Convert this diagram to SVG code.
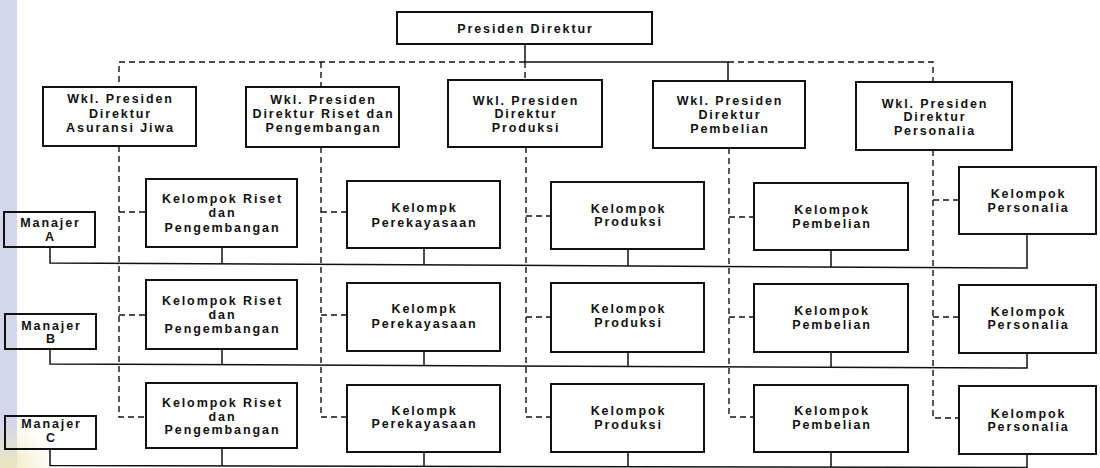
<svg xmlns="http://www.w3.org/2000/svg" width="1100" height="468" viewBox="0 0 1100 468">
  <style>
    .box { fill: none; stroke: #111; stroke-width: 2; }
    .t { font-family: "Liberation Sans", Arial, sans-serif; font-weight: bold; font-size: 12.5px; letter-spacing: 1.9px; text-anchor: middle; fill: #111; }
    .solid { fill: none; stroke: #111; stroke-width: 1.5; }
    .dash { fill: none; stroke: #111; stroke-width: 1.4; stroke-dasharray: 6 4; }
  </style>
  <defs>
    <radialGradient id="tint" cx="8" cy="468" r="46" gradientUnits="userSpaceOnUse">
      <stop offset="0" stop-color="#efe8b8" stop-opacity="0.9"/>
      <stop offset="1" stop-color="#efe8b8" stop-opacity="0"/>
    </radialGradient>
  </defs>

  <!-- page background and margin strip -->
  <rect x="0" y="0" width="1100" height="468" fill="#fff"/>
  <rect x="0" y="0" width="17" height="468" fill="#d4d7eb"/>
  <rect x="0" y="420" width="60" height="48" fill="url(#tint)"/>

  <!-- connectors -->
  <g id="connectors">
    <!-- top level -->
    <path class="solid" d="M525,44 V62 H728 V81"/>
    <path class="dash" d="M525,62 H119 V87"/>
    <path class="dash" d="M321,62 V87"/>
    <path class="dash" d="M525,62 V80"/>
    <path class="dash" d="M728,62 H933 V82"/>
    <!-- dashed lines from each vice president down to the groups -->
    <path class="dash" d="M119,146 V417 H146 M119,212 H146 M119,315 H146"/>
    <path class="dash" d="M321,147 V417 H347 M321,212 H347 M321,315 H347"/>
    <path class="dash" d="M526,147 V417 H551 M526,216 H551 M526,317 H551"/>
    <path class="dash" d="M729,148 V417 H754 M729,217 H754 M729,317 H754"/>
    <path class="dash" d="M933,150 V418 H959 M933,200 H959 M933,317 H959"/>
    <!-- manager A line -->
    <path class="solid" d="M50,247 V263 L1027,268 V234"/>
    <path class="solid" d="M222,247 V263.9 M424,248 V264.9 M628,249 V266 M831,250 V267"/>
    <!-- manager B line -->
    <path class="solid" d="M50,349 V364 L1027,368 V353"/>
    <path class="solid" d="M222,349 V364.7 M424,351 V365.5 M628,352 V366.4 M831,352 V367.2"/>
    <!-- manager C line -->
    <path class="solid" d="M50,449 V465.5 L1027,467.5 V454"/>
    <path class="solid" d="M222,448 V465.9 M424,452 V466.3 M628,452 V466.7 M831,452 V467.1"/>
  </g>

  <!-- top -->
  <g id="presiden-direktur">
    <rect class="box" x="397" y="12" width="255" height="32"/>
    <text class="t" x="525.5" y="32.5">Presiden Direktur</text>
  </g>

  <!-- vice presidents -->
  <g id="wkl-asuransi">
    <rect class="box" x="43" y="87" width="153" height="59"/>
    <text class="t" x="120.5" y="103">Wkl. Presiden</text>
    <text class="t" x="120.5" y="117.5">Direktur</text>
    <text class="t" x="120.5" y="132">Asuransi Jiwa</text>
  </g>
  <g id="wkl-riset">
    <rect class="box" x="246" y="87" width="153" height="60"/>
    <text class="t" x="323.5" y="103.5">Wkl. Presiden</text>
    <text class="t" x="323.5" y="118">Direktur Riset dan</text>
    <text class="t" x="323.5" y="132">Pengembangan</text>
  </g>
  <g id="wkl-produksi">
    <rect class="box" x="448" y="80" width="154" height="67"/>
    <text class="t" x="526" y="104.5">Wkl. Presiden</text>
    <text class="t" x="526" y="118">Direktur</text>
    <text class="t" x="526" y="132">Produksi</text>
  </g>
  <g id="wkl-pembelian">
    <rect class="box" x="653" y="81" width="152" height="67"/>
    <text class="t" x="730" y="104.5">Wkl. Presiden</text>
    <text class="t" x="730" y="118.5">Direktur</text>
    <text class="t" x="730" y="132.5">Pembelian</text>
  </g>
  <g id="wkl-personalia">
    <rect class="box" x="856" y="82" width="156" height="68"/>
    <text class="t" x="935" y="107.5">Wkl. Presiden</text>
    <text class="t" x="935" y="121">Direktur</text>
    <text class="t" x="935" y="134.5">Personalia</text>
  </g>

  <!-- managers -->
  <g id="manajer-a">
    <rect class="box" x="4" y="212" width="91" height="35"/>
    <text class="t" x="50.5" y="226.5">Manajer</text>
    <text class="t" x="50.5" y="240.5">A</text>
  </g>
  <g id="manajer-b">
    <rect class="box" x="5" y="314" width="91" height="35"/>
    <text class="t" x="51.5" y="329.5">Manajer</text>
    <text class="t" x="51.5" y="342.5">B</text>
  </g>
  <g id="manajer-c">
    <rect class="box" x="5" y="416" width="91" height="33"/>
    <text class="t" x="51.5" y="427.5">Manajer</text>
    <text class="t" x="51.5" y="442">C</text>
  </g>

  <!-- row A groups -->
  <g id="riset-a">
    <rect class="box" x="146" y="179" width="151" height="68"/>
    <text class="t" x="222.5" y="202.5">Kelompok Riset</text>
    <text class="t" x="222.5" y="216.5">dan</text>
    <text class="t" x="222.5" y="231.5">Pengembangan</text>
  </g>
  <g id="perekayasaan-a">
    <rect class="box" x="347" y="181" width="153" height="67"/>
    <text class="t" x="424.5" y="211.5">Kelompk</text>
    <text class="t" x="424.5" y="226.5">Perekayasaan</text>
  </g>
  <g id="produksi-a">
    <rect class="box" x="551" y="182" width="153" height="67"/>
    <text class="t" x="628.5" y="212.5">Kelompok</text>
    <text class="t" x="628.5" y="226">Produksi</text>
  </g>
  <g id="pembelian-a">
    <rect class="box" x="754" y="183" width="154" height="67"/>
    <text class="t" x="832" y="213.5">Kelompok</text>
    <text class="t" x="832" y="227.5">Pembelian</text>
  </g>
  <g id="personalia-a">
    <rect class="box" x="959" y="167" width="137" height="67"/>
    <text class="t" x="1028.5" y="197.5">Kelompok</text>
    <text class="t" x="1028.5" y="211.5">Personalia</text>
  </g>

  <!-- row B groups -->
  <g id="riset-b">
    <rect class="box" x="146" y="280" width="151" height="69"/>
    <text class="t" x="222.5" y="304.5">Kelompok Riset</text>
    <text class="t" x="222.5" y="319">dan</text>
    <text class="t" x="222.5" y="333">Pengembangan</text>
  </g>
  <g id="perekayasaan-b">
    <rect class="box" x="347" y="283" width="153" height="68"/>
    <text class="t" x="424.5" y="312.5">Kelompk</text>
    <text class="t" x="424.5" y="327.5">Perekayasaan</text>
  </g>
  <g id="produksi-b">
    <rect class="box" x="551" y="283" width="153" height="69"/>
    <text class="t" x="628.5" y="312.5">Kelompok</text>
    <text class="t" x="628.5" y="327">Produksi</text>
  </g>
  <g id="pembelian-b">
    <rect class="box" x="754" y="284" width="154" height="68"/>
    <text class="t" x="832" y="314.5">Kelompok</text>
    <text class="t" x="832" y="328.5">Pembelian</text>
  </g>
  <g id="personalia-b">
    <rect class="box" x="959" y="285" width="137" height="68"/>
    <text class="t" x="1028.5" y="315.5">Kelompok</text>
    <text class="t" x="1028.5" y="328.5">Personalia</text>
  </g>

  <!-- row C groups -->
  <g id="riset-c">
    <rect class="box" x="146" y="383" width="151" height="65"/>
    <text class="t" x="222.5" y="406.5">Kelompok Riset</text>
    <text class="t" x="222.5" y="420.5">dan</text>
    <text class="t" x="222.5" y="434">Pengembangan</text>
  </g>
  <g id="perekayasaan-c">
    <rect class="box" x="347" y="385" width="153" height="67"/>
    <text class="t" x="424.5" y="414.5">Kelompk</text>
    <text class="t" x="424.5" y="428">Perekayasaan</text>
  </g>
  <g id="produksi-c">
    <rect class="box" x="551" y="384" width="153" height="68"/>
    <text class="t" x="628.5" y="414.5">Kelompok</text>
    <text class="t" x="628.5" y="428.5">Produksi</text>
  </g>
  <g id="pembelian-c">
    <rect class="box" x="754" y="385" width="154" height="67"/>
    <text class="t" x="832" y="414.5">Kelompok</text>
    <text class="t" x="832" y="428.5">Pembelian</text>
  </g>
  <g id="personalia-c">
    <rect class="box" x="959" y="386" width="137" height="68"/>
    <text class="t" x="1028.5" y="417.5">Kelompok</text>
    <text class="t" x="1028.5" y="430.5">Personalia</text>
  </g>
</svg>
